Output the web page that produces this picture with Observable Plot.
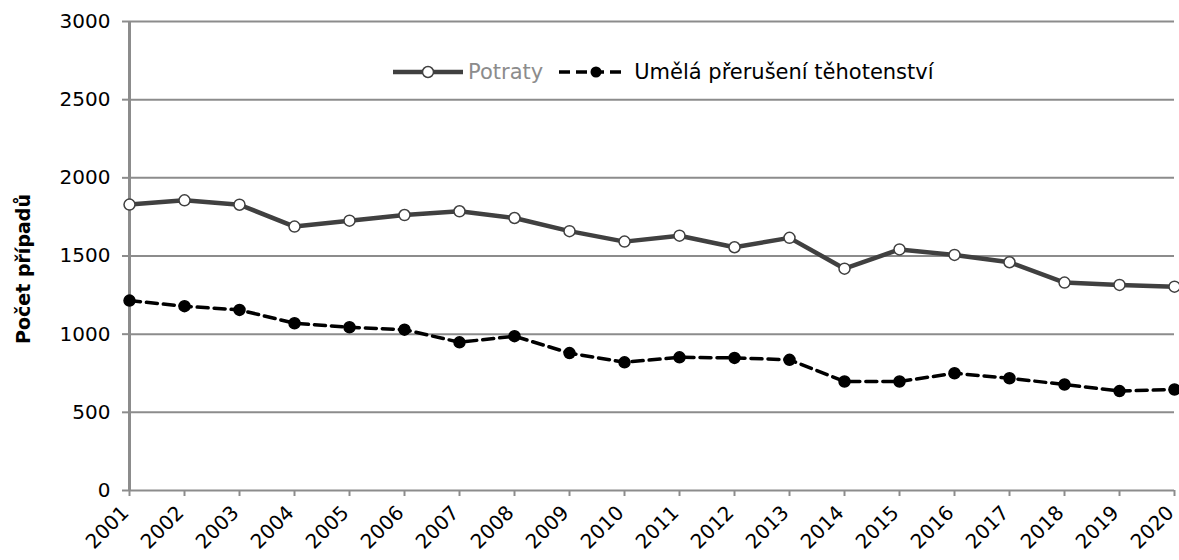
<!DOCTYPE html>
<html><head><meta charset="utf-8">
<script src="https://cdn.jsdelivr.net/npm/d3@7"></script>
<script src="https://cdn.jsdelivr.net/npm/@observablehq/plot@0.6"></script>
<style>
body{margin:0;background:#fff;}
#wrap{position:relative;width:1179px;height:560px;font-family:"DejaVu Sans",sans-serif;}
#legend{position:absolute;left:393px;top:57px;height:30px;display:flex;align-items:center;font-size:21px;white-space:nowrap;}
#legend .item{display:flex;align-items:center;}
#legend svg{display:block;}
#ytitle{position:absolute;left:23px;top:269px;transform:translate(-50%,-50%) rotate(-90deg);font-weight:bold;font-size:19px;white-space:nowrap;color:#000;}
</style>
</head><body>
<div id="wrap"></div>
<script>
const years = [2001,2002,2003,2004,2005,2006,2007,2008,2009,2010,2011,2012,2013,2014,2015,2016,2017,2018,2019,2020];
const potraty = [1829,1856,1828,1688,1726,1762,1786,1743,1659,1592,1630,1556,1616,1419,1542,1507,1460,1330,1315,1304];
const umela = [1215,1179,1155,1070,1044,1029,948,987,879,820,852,848,836,697,697,750,718,678,636,646];
const yTicks = [0,500,1000,1500,2000,2500,3000];
const seriesNames = ["Potraty","Umělá přerušení těhotenství"];
const yTitle = "Počet případů";

const dataP = years.map((y,i)=>({year:y, value:potraty[i]}));
const dataU = years.map((y,i)=>({year:y, value:umela[i]}));
const grid = "#8c8c8c";

const chart = Plot.plot({
  width:1179, height:560,
  marginLeft:129, marginRight:5, marginTop:21, marginBottom:70,
  style:{fontFamily:"DejaVu Sans", fontSize:"20px", color:"#000", background:"#fff"},
  x:{domain:[2001,2020]},
  y:{domain:[0,3000]},
  marks:[
    Plot.ruleY(yTicks, {x1:2001, x2:2020, stroke:grid, strokeWidth:2}),
    Plot.ruleX([2001], {y1:0, y2:3000, stroke:grid, strokeWidth:3}),
    Plot.axisY({ticks:yTicks, tickSize:7, tickPadding:12, stroke:grid, strokeWidth:2, label:null, fontSize:20, tickFormat:d=>String(d)}),
    Plot.axisX({ticks:years, tickSize:6, stroke:grid, strokeWidth:2, label:null, tickFormat:()=>""}),
    Plot.axisX({ticks:years, tickSize:0, tickPadding:19, tickRotate:-45, dx:-4, label:null, fontSize:20, tickFormat:d=>String(d)}),
    Plot.line(dataP, {x:"year", y:"value", stroke:"#404040", strokeWidth:4.5}),
    Plot.dot(dataP, {x:"year", y:"value", r:5.5, fill:"#fff", stroke:"#404040", strokeWidth:1.5}),
    Plot.line(dataU, {x:"year", y:"value", stroke:"#000", strokeWidth:3.5, strokeDasharray:"11,6"}),
    Plot.dot(dataU, {x:"year", y:"value", r:5.5, fill:"#000", stroke:"#000"})
  ]
});
const wrap = document.getElementById("wrap");
wrap.appendChild(chart);

const legend = document.createElement("div");
legend.id = "legend";
legend.innerHTML =
  `<div class="item"><svg width="70" height="20"><line x1="0" y1="10" x2="70" y2="10" stroke="#404040" stroke-width="4.5"/><circle cx="35" cy="10" r="5.5" fill="#fff" stroke="#404040" stroke-width="1.5"/></svg><span style="color:#8c8c8c;margin-left:5px">${seriesNames[0]}</span></div>` +
  `<div class="item" style="margin-left:16px"><svg width="68" height="20"><line x1="0" y1="10" x2="68" y2="10" stroke="#000" stroke-width="3.5" stroke-dasharray="11,6"/><circle cx="37" cy="10" r="5.5" fill="#000"/></svg><span style="color:#000;margin-left:7px">${seriesNames[1]}</span></div>`;
wrap.appendChild(legend);

const yt = document.createElement("div");
yt.id = "ytitle";
yt.textContent = yTitle;
wrap.appendChild(yt);
</script>
</body></html>
